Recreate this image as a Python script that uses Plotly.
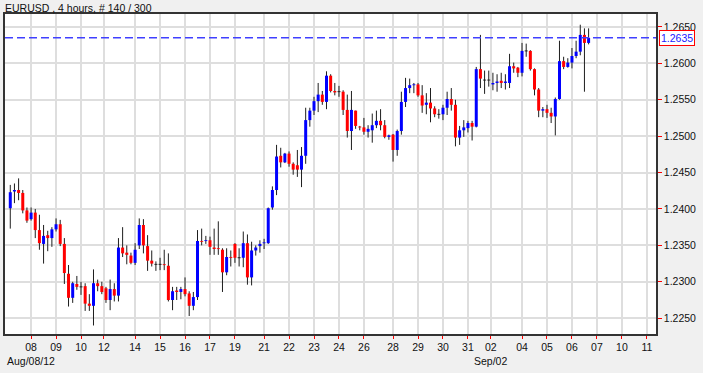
import plotly.graph_objects as go

# ---------------- data ----------------
title_text = "EURUSD , 4 hours, # 140 / 300"

opens = [1.2401, 1.2424, 1.2426, 1.2422, 1.2398, 1.2386, 1.2395, 1.2371, 1.2352, 1.2364,
         1.2360, 1.2372, 1.2379, 1.2352, 1.2311, 1.2278, 1.2297, 1.2293, 1.2294, 1.2270,
         1.2267, 1.2298, 1.2294, 1.2291, 1.2275, 1.2290, 1.2281, 1.2347, 1.2340, 1.2336,
         1.2326, 1.2350, 1.2378, 1.2349, 1.2329, 1.2324, 1.2324, 1.2324, 1.2322, 1.2275,
         1.2288, 1.2286, 1.2290, 1.2284, 1.2267, 1.2279, 1.2356, 1.2356, 1.2357, 1.2347,
         1.2346, 1.2344, 1.2313, 1.2334, 1.2352, 1.2333, 1.2333, 1.2353, 1.2306, 1.2343,
         1.2349, 1.2353, 1.2353, 1.2402, 1.2426, 1.2473, 1.2464, 1.2476, 1.2462, 1.2460,
         1.2454, 1.2473, 1.2522, 1.2535, 1.2548, 1.2557, 1.2547, 1.2583, 1.2562, 1.2561,
         1.2561, 1.2536, 1.2507, 1.2535, 1.2513, 1.2512, 1.2506, 1.2508, 1.2515, 1.2521,
         1.2515, 1.2499, 1.2502, 1.2481, 1.2507, 1.2547, 1.2566, 1.2570, 1.2571, 1.2556,
         1.2543, 1.2546, 1.2538, 1.2530, 1.2530, 1.2539, 1.2551, 1.2543, 1.2498, 1.2508,
         1.2511, 1.2518, 1.2513, 1.2592, 1.2577, 1.2577, 1.2571, 1.2573, 1.2576, 1.2573,
         1.2573, 1.2596, 1.2594, 1.2587, 1.2617, 1.2617, 1.2592, 1.2564, 1.2535, 1.2537,
         1.2532, 1.2527, 1.2551, 1.2603, 1.2595, 1.2601, 1.2610, 1.2616, 1.2639, 1.2628]

highs = [1.2433, 1.2435, 1.2442, 1.2426, 1.2402, 1.2402, 1.2400, 1.2392, 1.2378, 1.2370,
         1.2375, 1.2387, 1.2385, 1.2360, 1.2323, 1.2300, 1.2308, 1.2300, 1.2298, 1.2283,
         1.2317, 1.2303, 1.2300, 1.2293, 1.2303, 1.2298, 1.2360, 1.2375, 1.2350, 1.2340,
         1.2353, 1.2387, 1.2386, 1.2364, 1.2343, 1.2328, 1.2333, 1.2344, 1.2339, 1.2293,
         1.2293, 1.2293, 1.2306, 1.2287, 1.2286, 1.2371, 1.2373, 1.2363, 1.2362, 1.2373,
         1.2383, 1.2346, 1.2346, 1.2343, 1.2353, 1.2346, 1.2369, 1.2365, 1.2355, 1.2350,
         1.2357, 1.2359, 1.2402, 1.2431, 1.2488, 1.2484, 1.2477, 1.2479, 1.2464, 1.2481,
         1.2485, 1.2539, 1.2539, 1.2554, 1.2573, 1.2562, 1.2589, 1.2585, 1.2573, 1.2569,
         1.2563, 1.2557, 1.2562, 1.2535, 1.2514, 1.2525, 1.2515, 1.2531, 1.2535, 1.2537,
         1.2522, 1.2502, 1.2503, 1.2509, 1.2561, 1.2580, 1.2579, 1.2573, 1.2573, 1.2570,
         1.2559, 1.2566, 1.2541, 1.2537, 1.2543, 1.2561, 1.2566, 1.2550, 1.2514, 1.2522,
         1.2521, 1.2521, 1.2595, 1.2639, 1.2590, 1.2590, 1.2587, 1.2585, 1.2587, 1.2585,
         1.2613, 1.2601, 1.2595, 1.2628, 1.2627, 1.2618, 1.2593, 1.2566, 1.2540, 1.2543,
         1.2539, 1.2553, 1.2631, 1.2609, 1.2607, 1.2621, 1.2631, 1.2653, 1.2648, 1.2648]

lows = [1.2373, 1.2408, 1.2412, 1.2394, 1.2381, 1.2384, 1.2360, 1.2344, 1.2325, 1.2342,
        1.2348, 1.2369, 1.2349, 1.2297, 1.2266, 1.2271, 1.2289, 1.2282, 1.2260, 1.2260,
        1.2240, 1.2287, 1.2283, 1.2271, 1.2261, 1.2273, 1.2273, 1.2334, 1.2324, 1.2324,
        1.2323, 1.2345, 1.2339, 1.2315, 1.2321, 1.2315, 1.2316, 1.2316, 1.2273, 1.2261,
        1.2275, 1.2276, 1.2280, 1.2253, 1.2261, 1.2275, 1.2350, 1.2352, 1.2337, 1.2337,
        1.2337, 1.2286, 1.2309, 1.2321, 1.2326, 1.2321, 1.2320, 1.2296, 1.2295, 1.2336,
        1.2340, 1.2345, 1.2352, 1.2399, 1.2419, 1.2457, 1.2463, 1.2458, 1.2447, 1.2444,
        1.2430, 1.2462, 1.2513, 1.2529, 1.2533, 1.2543, 1.2537, 1.2560, 1.2556, 1.2554,
        1.2529, 1.2498, 1.2481, 1.2510, 1.2508, 1.2502, 1.2498, 1.2491, 1.2511, 1.2508,
        1.2497, 1.2495, 1.2465, 1.2473, 1.2502, 1.2540, 1.2559, 1.2559, 1.2554, 1.2532,
        1.2530, 1.2519, 1.2526, 1.2524, 1.2522, 1.2529, 1.2535, 1.2486, 1.2488, 1.2499,
        1.2505, 1.2494, 1.2512, 1.2566, 1.2558, 1.2568, 1.2563, 1.2561, 1.2566, 1.2564,
        1.2566, 1.2587, 1.2581, 1.2582, 1.2609, 1.2590, 1.2556, 1.2526, 1.2526, 1.2525,
        1.2518, 1.2501, 1.2550, 1.2592, 1.2594, 1.2593, 1.2607, 1.2611, 1.2561, 1.2626]

closes = [1.2423, 1.2426, 1.2422, 1.2398, 1.2384, 1.2395, 1.2371, 1.2353, 1.2363, 1.2360,
          1.2372, 1.2379, 1.2352, 1.2312, 1.2278, 1.2298, 1.2293, 1.2293, 1.2270, 1.2267,
          1.2298, 1.2294, 1.2286, 1.2275, 1.2290, 1.2281, 1.2347, 1.2339, 1.2337, 1.2326,
          1.2344, 1.2378, 1.2350, 1.2329, 1.2325, 1.2324, 1.2324, 1.2323, 1.2275, 1.2287,
          1.2286, 1.2290, 1.2283, 1.2267, 1.2279, 1.2356, 1.2355, 1.2357, 1.2348, 1.2345,
          1.2345, 1.2313, 1.2334, 1.2333, 1.2333, 1.2333, 1.2353, 1.2306, 1.2343, 1.2347,
          1.2352, 1.2354, 1.2401, 1.2426, 1.2472, 1.2464, 1.2476, 1.2462, 1.2454, 1.2454,
          1.2473, 1.2522, 1.2535, 1.2548, 1.2557, 1.2547, 1.2583, 1.2562, 1.2560, 1.2561,
          1.2536, 1.2507, 1.2536, 1.2514, 1.2512, 1.2506, 1.2510, 1.2515, 1.2521, 1.2515,
          1.2499, 1.2501, 1.2481, 1.2507, 1.2547, 1.2566, 1.2570, 1.2571, 1.2556, 1.2542,
          1.2546, 1.2538, 1.2530, 1.2530, 1.2539, 1.2551, 1.2543, 1.2498, 1.2508, 1.2512,
          1.2518, 1.2513, 1.2592, 1.2579, 1.2577, 1.2577, 1.2573, 1.2575, 1.2573, 1.2575,
          1.2596, 1.2593, 1.2587, 1.2617, 1.2617, 1.2592, 1.2564, 1.2535, 1.2537, 1.2532,
          1.2527, 1.2551, 1.2603, 1.2595, 1.2601, 1.2610, 1.2616, 1.2639, 1.2628, 1.2635]

bar_index = list(range(len(opens)))

day_tick_pos = [5, 11, 17, 22.5, 30, 36, 42, 48, 54, 61, 67, 73, 79, 85, 92, 98,
                104, 110, 115.5, 123, 129, 135, 141, 147, 153]
day_tick_text = ["08", "09", "10", "12", "14", "15", "16", "17", "19", "21", "22", "23",
                 "24", "26", "28", "29", "30", "31", "02", "04", "05", "06", "07", "10", "11"]
month_label_text = ["Aug/08/12", "Sep/02"]
month_label_pos = [5, 115.5]

price_ticks = [1.2250, 1.2300, 1.2350, 1.2400, 1.2450, 1.2500, 1.2550, 1.2600, 1.2650]
last_price = 1.2635

# ---------------- styles ----------------
UP = "#0000ff"
DOWN = "#ff0000"
DOJI = "#111111"
FONT = "Liberation Sans, Arial, sans-serif"
FS = 10.5
BODY_PX = 3

wick_x, wick_y = [], []
for i, h, l in zip(bar_index, highs, lows):
    wick_x += [i, i, None]
    wick_y += [l, h, None]

min_body = 0.00012
bodies = {UP: ([], []), DOWN: ([], []), DOJI: ([], [])}
for i, o, c in zip(bar_index, opens, closes):
    lo, hi = min(o, c), max(o, c)
    if hi - lo < min_body:
        mid = (lo + hi) / 2
        lo, hi = mid - min_body / 2, mid + min_body / 2
    col = UP if c > o else (DOWN if c < o else DOJI)
    bodies[col][0].extend([i, i, None])
    bodies[col][1].extend([lo, hi, None])

fig = go.Figure()
fig.add_trace(go.Scatter(x=wick_x, y=wick_y, mode="lines",
                         line=dict(color="#1e1e1e", width=1),
                         hoverinfo="skip", showlegend=False))
for col, (bx, by) in bodies.items():
    fig.add_trace(go.Scatter(x=bx, y=by, mode="lines",
                             line=dict(color=col, width=BODY_PX),
                             hoverinfo="skip", showlegend=False))

fig.update_layout(
    width=703, height=392,
    margin=dict(l=5, r=47, t=14, b=58, autoexpand=False),
    paper_bgcolor="#f0f0f0", plot_bgcolor="#ffffff",
    font=dict(family=FONT, size=FS, color="#111111"),
    showlegend=False,
    xaxis=dict(range=[-1.27, 155.2], tickmode="array", tickvals=day_tick_pos,
               ticktext=day_tick_text, ticks="outside", ticklen=3, tickcolor="#ff0000",
               tickwidth=1, showgrid=True, gridcolor="#dedede", gridwidth=1.5,
               zeroline=False, showline=True, mirror=True, linecolor="#333333",
               linewidth=1.5, tickfont=dict(size=FS), automargin=False),
    yaxis=dict(range=[1.22283, 1.26677], side="right", tickmode="array",
               tickvals=price_ticks, tickformat=".4f", ticks="outside", ticklen=4,
               tickcolor="#ff0000", tickwidth=1, showgrid=True, gridcolor="#dedede",
               gridwidth=1.5, zeroline=False, showline=True, mirror=True,
               linecolor="#333333", linewidth=1.5, tickfont=dict(size=FS),
               automargin=False),
)

# current price dashed line
fig.add_shape(type="line", xref="paper", x0=0, x1=1, yref="y", y0=last_price, y1=last_price,
              line=dict(color="#4040ff", width=1.5, dash="8px,4px"), layer="above")

# white strip at the very bottom of the window
fig.add_shape(type="rect", xref="paper", x0=-0.1, x1=1.2, yref="paper", y0=-0.1219, y1=-0.3,
              fillcolor="#ffffff", line=dict(width=0), layer="below")

# price label box
fig.add_annotation(x=1, xref="paper", xanchor="left", xshift=3, y=last_price, yref="y",
                   text=f"{last_price:.4f}", showarrow=False,
                   font=dict(color="#2020ff", size=FS, family=FONT),
                   bgcolor="#ffffff", bordercolor="#ff0000", borderwidth=1, borderpad=1)

# title
fig.add_annotation(x=-0.003, xref="paper", xanchor="left", y=1.019, yref="paper",
                   yanchor="middle", text=title_text, showarrow=False,
                   font=dict(size=FS, color="#111111", family=FONT))

# month labels
for txt, pos in zip(month_label_text, month_label_pos):
    fig.add_annotation(x=pos, xref="x", xanchor="center", y=-0.084, yref="paper",
                       yanchor="middle", text=txt, showarrow=False,
                       font=dict(size=FS, color="#111111", family=FONT))

fig.write_html("out.html", config={"displayModeBar": False},
               post_script="document.body.style.margin='0px';document.body.style.overflow='hidden';")
